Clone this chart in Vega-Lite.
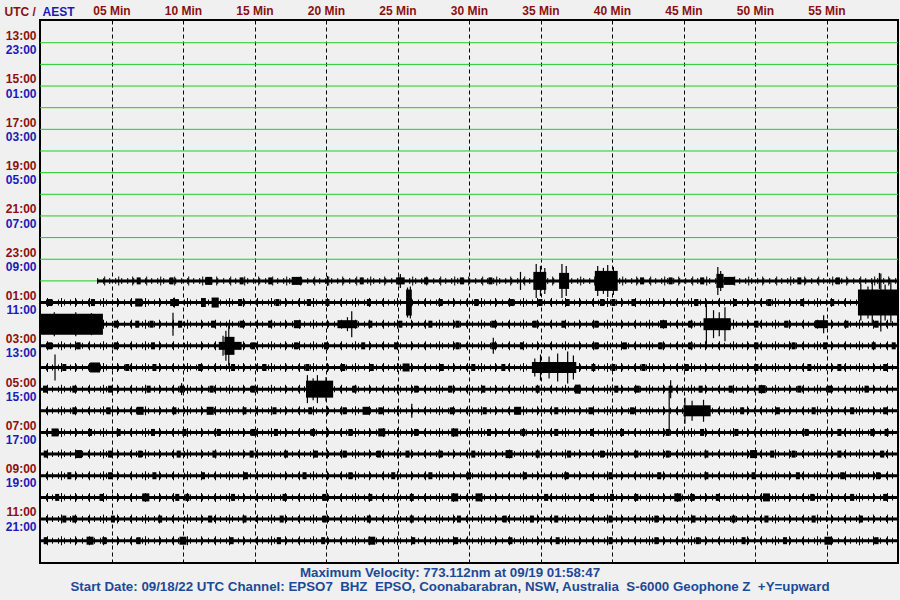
{
  "$schema": "https://vega.github.io/schema/vega-lite/v6.json",
  "width": 858,
  "height": 543,
  "autosize": {"type": "none"},
  "padding": {"left": 40, "top": 20, "right": 2, "bottom": 37},
  "background": "#f0f0f0",
  "config": {
    "view": {"stroke": "#000000", "strokeWidth": 2, "fill": "#f0f0f0"},
    "font": "Liberation Sans"
  },
  "title": {
    "text": ["Maximum Velocity: 773.112nm at 09/19 01:58:47", "Start Date: 09/18/22 UTC Channel: EPSO7\u00a0 BHZ\u00a0 EPSO, Coonabarabran, NSW, Australia\u00a0 S-6000 Geophone Z\u00a0 +Y=upward"],
    "orient": "bottom",
    "anchor": "middle",
    "offset": 3,
    "dx": -19,
    "baseline": "top",
    "font": "Liberation Sans",
    "fontSize": 13.3,
    "fontWeight": "bold",
    "color": "#1c4a96",
    "lineHeight": 14
  },
  "datasets": {
    "green": [
      {"r": 0, "a": 0, "b": 60}, {"r": 1, "a": 0, "b": 60}, {"r": 2, "a": 0, "b": 60}, {"r": 3, "a": 0, "b": 60},
      {"r": 4, "a": 0, "b": 60}, {"r": 5, "a": 0, "b": 60}, {"r": 6, "a": 0, "b": 60}, {"r": 7, "a": 0, "b": 60},
      {"r": 8, "a": 0, "b": 60}, {"r": 9, "a": 0, "b": 60}, {"r": 10, "a": 0, "b": 60}, {"r": 11, "a": 0, "b": 4.0}
    ],
    "base": [
      {"r": 11, "a": 4.0, "b": 60}, {"r": 12, "a": 0, "b": 60}, {"r": 13, "a": 0, "b": 60},
      {"r": 14, "a": 0, "b": 60}, {"r": 15, "a": 0, "b": 60}, {"r": 16, "a": 0, "b": 60},
      {"r": 17, "a": 0, "b": 60}, {"r": 18, "a": 0, "b": 60}, {"r": 19, "a": 0, "b": 60},
      {"r": 20, "a": 0, "b": 60}, {"r": 21, "a": 0, "b": 60}, {"r": 22, "a": 0, "b": 60},
      {"r": 23, "a": 0, "b": 60}
    ],
    "seg": [
      {"r": 11, "a": 17.6, "b": 18.3, "h": 8}, {"r": 11, "a": 24.9, "b": 25.5, "h": 7}, {"r": 11, "a": 34.5, "b": 35.4, "h": 18},
      {"r": 11, "a": 36.3, "b": 37.0, "h": 16}, {"r": 11, "a": 38.8, "b": 40.4, "h": 20}, {"r": 11, "a": 47.3, "b": 47.8, "h": 14},
      {"r": 11, "a": 47.8, "b": 48.6, "h": 8},
      {"r": 12, "a": 9.1, "b": 9.7, "h": 7}, {"r": 12, "a": 11.3, "b": 11.6, "h": 9}, {"r": 12, "a": 12.0, "b": 12.5, "h": 10},
      {"r": 12, "a": 25.6, "b": 26.0, "h": 26}, {"r": 12, "a": 57.2, "b": 60, "h": 26},
      {"r": 13, "a": 0, "b": 4.4, "h": 21}, {"r": 13, "a": 20.8, "b": 22.2, "h": 8}, {"r": 13, "a": 46.4, "b": 48.3, "h": 12},
      {"r": 13, "a": 54.2, "b": 55.1, "h": 8},
      {"r": 14, "a": 12.5, "b": 14.1, "h": 8}, {"r": 14, "a": 12.9, "b": 13.6, "h": 18},
      {"r": 15, "a": 3.5, "b": 4.2, "h": 10}, {"r": 15, "a": 34.4, "b": 37.5, "h": 11},
      {"r": 16, "a": 18.6, "b": 20.5, "h": 17}, {"r": 16, "a": 37.4, "b": 37.8, "h": 9},
      {"r": 17, "a": 45.0, "b": 46.9, "h": 11}
    ],
    "blip": [
      {"r": 11, "a": 6.9}, {"r": 11, "a": 9.2}, {"r": 11, "a": 14.1}, {"r": 11, "a": 16.1}, {"r": 11, "a": 22.5},
      {"r": 11, "a": 27.0}, {"r": 11, "a": 29.5}, {"r": 11, "a": 31.5}, {"r": 11, "a": 42.1}, {"r": 11, "a": 44.1},
      {"r": 11, "a": 46.3}, {"r": 11, "a": 53.1}, {"r": 11, "a": 55.8},
      {"r": 12, "a": 0.7}, {"r": 12, "a": 3.7}, {"r": 12, "a": 14.0}, {"r": 12, "a": 16.6}, {"r": 12, "a": 18.8},
      {"r": 12, "a": 20.1}, {"r": 12, "a": 23.0}, {"r": 12, "a": 28.0}, {"r": 12, "a": 30.5}, {"r": 12, "a": 33.0},
      {"r": 12, "a": 35.0}, {"r": 12, "a": 36.9}, {"r": 12, "a": 39.3}, {"r": 12, "a": 40.1}, {"r": 12, "a": 41.5},
      {"r": 12, "a": 45.9}, {"r": 12, "a": 48.6}, {"r": 12, "a": 51.0}, {"r": 12, "a": 53.3}, {"r": 12, "a": 55.4},
      {"r": 13, "a": 5.3}, {"r": 13, "a": 6.8}, {"r": 13, "a": 7.8}, {"r": 13, "a": 9.8}, {"r": 13, "a": 12.1},
      {"r": 13, "a": 14.1}, {"r": 13, "a": 16.1}, {"r": 13, "a": 23.1}, {"r": 13, "a": 25.2}, {"r": 13, "a": 27.3},
      {"r": 13, "a": 29.2}, {"r": 13, "a": 31.7}, {"r": 13, "a": 34.6}, {"r": 13, "a": 36.6}, {"r": 13, "a": 38.9},
      {"r": 13, "a": 45.5}, {"r": 13, "a": 50.1}, {"r": 13, "a": 52.2}, {"r": 13, "a": 56.4}, {"r": 13, "a": 58.5},
      {"r": 14, "a": 0.7}, {"r": 14, "a": 2.7}, {"r": 14, "a": 5.3}, {"r": 14, "a": 7.9}, {"r": 14, "a": 14.9},
      {"r": 14, "a": 17.9}, {"r": 14, "a": 20.0}, {"r": 14, "a": 22.6}, {"r": 14, "a": 24.9}, {"r": 14, "a": 29.2},
      {"r": 14, "a": 31.7}, {"r": 14, "a": 33.7}, {"r": 14, "a": 38.9}, {"r": 14, "a": 40.9}, {"r": 14, "a": 43.4},
      {"r": 14, "a": 45.5}, {"r": 14, "a": 50.1}, {"r": 14, "a": 52.7}, {"r": 14, "a": 54.9}, {"r": 14, "a": 58.3},
      {"r": 14, "a": 59.7},
      {"r": 15, "a": 1.7}, {"r": 15, "a": 6.1}, {"r": 15, "a": 8.0}, {"r": 15, "a": 11.2}, {"r": 15, "a": 13.5},
      {"r": 15, "a": 15.7}, {"r": 15, "a": 18.7}, {"r": 15, "a": 21.2}, {"r": 15, "a": 23.2}, {"r": 15, "a": 28.1},
      {"r": 15, "a": 30.3}, {"r": 15, "a": 32.4}, {"r": 15, "a": 38.7}, {"r": 15, "a": 40.1}, {"r": 15, "a": 42.2},
      {"r": 15, "a": 45.2}, {"r": 15, "a": 50.1}, {"r": 15, "a": 53.8}, {"r": 15, "a": 55.9}, {"r": 15, "a": 59.1},
      {"r": 16, "a": 0.35}, {"r": 16, "a": 2.4}, {"r": 16, "a": 4.9}, {"r": 16, "a": 7.6}, {"r": 16, "a": 9.9},
      {"r": 16, "a": 12.0}, {"r": 16, "a": 14.9}, {"r": 16, "a": 22.0}, {"r": 16, "a": 26.3}, {"r": 16, "a": 28.7},
      {"r": 16, "a": 31.0}, {"r": 16, "a": 34.8}, {"r": 16, "a": 40.3}, {"r": 16, "a": 41.8}, {"r": 16, "a": 44.1},
      {"r": 16, "a": 46.2}, {"r": 16, "a": 48.3}, {"r": 16, "a": 53.1}, {"r": 16, "a": 55.2}, {"r": 16, "a": 57.8},
      {"r": 17, "a": 2.4}, {"r": 17, "a": 4.8}, {"r": 17, "a": 9.4}, {"r": 17, "a": 14.3}, {"r": 17, "a": 16.4},
      {"r": 17, "a": 18.9}, {"r": 17, "a": 21.3}, {"r": 17, "a": 23.8}, {"r": 17, "a": 28.8}, {"r": 17, "a": 31.1},
      {"r": 17, "a": 36.1}, {"r": 17, "a": 38.5}, {"r": 17, "a": 41.4}, {"r": 17, "a": 49.1}, {"r": 17, "a": 51.6},
      {"r": 17, "a": 54.1}, {"r": 17, "a": 56.8}, {"r": 17, "a": 59.1},
      {"r": 18, "a": 3.5}, {"r": 18, "a": 5.5}, {"r": 18, "a": 7.9}, {"r": 18, "a": 10.1}, {"r": 18, "a": 12.5},
      {"r": 18, "a": 14.9}, {"r": 18, "a": 16.5}, {"r": 18, "a": 19.1}, {"r": 18, "a": 21.7}, {"r": 18, "a": 26.3},
      {"r": 18, "a": 31.4}, {"r": 18, "a": 33.8}, {"r": 18, "a": 36.1}, {"r": 18, "a": 38.6}, {"r": 18, "a": 40.7},
      {"r": 18, "a": 43.9}, {"r": 18, "a": 46.3}, {"r": 18, "a": 48.7}, {"r": 18, "a": 53.6}, {"r": 18, "a": 55.9},
      {"r": 18, "a": 58.2}, {"r": 18, "a": 59.2},
      {"r": 19, "a": 0.4}, {"r": 19, "a": 4.9}, {"r": 19, "a": 7.0}, {"r": 19, "a": 9.7}, {"r": 19, "a": 12.2},
      {"r": 19, "a": 14.8}, {"r": 19, "a": 17.2}, {"r": 19, "a": 19.3}, {"r": 19, "a": 21.3}, {"r": 19, "a": 23.7},
      {"r": 19, "a": 25.7}, {"r": 19, "a": 28.0}, {"r": 19, "a": 30.3}, {"r": 19, "a": 34.8}, {"r": 19, "a": 37.0},
      {"r": 19, "a": 39.3}, {"r": 19, "a": 41.7}, {"r": 19, "a": 43.9}, {"r": 19, "a": 46.6}, {"r": 19, "a": 51.2},
      {"r": 19, "a": 52.7}, {"r": 19, "a": 55.9}, {"r": 19, "a": 58.9},
      {"r": 20, "a": 2.05}, {"r": 20, "a": 4.9}, {"r": 20, "a": 8.0}, {"r": 20, "a": 11.4}, {"r": 20, "a": 14.4},
      {"r": 20, "a": 18.5}, {"r": 20, "a": 21.7}, {"r": 20, "a": 24.7}, {"r": 20, "a": 27.3}, {"r": 20, "a": 30.0},
      {"r": 20, "a": 33.9}, {"r": 20, "a": 36.8}, {"r": 20, "a": 39.9}, {"r": 20, "a": 43.3}, {"r": 20, "a": 46.6},
      {"r": 20, "a": 49.9}, {"r": 20, "a": 53.0}, {"r": 20, "a": 56.1}, {"r": 20, "a": 58.6},
      {"r": 21, "a": 1.2}, {"r": 21, "a": 4.3}, {"r": 21, "a": 9.6}, {"r": 21, "a": 10.3}, {"r": 21, "a": 13.5},
      {"r": 21, "a": 17.1}, {"r": 21, "a": 19.9}, {"r": 21, "a": 23.1}, {"r": 21, "a": 26.0}, {"r": 21, "a": 35.4},
      {"r": 21, "a": 38.6}, {"r": 21, "a": 40.0}, {"r": 21, "a": 41.7}, {"r": 21, "a": 45.6}, {"r": 21, "a": 47.4},
      {"r": 21, "a": 54.0}, {"r": 21, "a": 56.8}, {"r": 21, "a": 59.1},
      {"r": 22, "a": 1.7}, {"r": 22, "a": 2.4}, {"r": 22, "a": 5.1}, {"r": 22, "a": 8.4}, {"r": 22, "a": 11.9},
      {"r": 22, "a": 14.3}, {"r": 22, "a": 16.9}, {"r": 22, "a": 19.9}, {"r": 22, "a": 23.0}, {"r": 22, "a": 26.0},
      {"r": 22, "a": 29.3}, {"r": 22, "a": 32.5}, {"r": 22, "a": 34.4}, {"r": 22, "a": 36.1}, {"r": 22, "a": 39.9},
      {"r": 22, "a": 43.1}, {"r": 22, "a": 45.7}, {"r": 22, "a": 48.5}, {"r": 22, "a": 50.8}, {"r": 22, "a": 54.1},
      {"r": 22, "a": 57.4},
      {"r": 23, "a": 0.4}, {"r": 23, "a": 4.5}, {"r": 23, "a": 6.9}, {"r": 23, "a": 13.4}, {"r": 23, "a": 16.7},
      {"r": 23, "a": 19.8}, {"r": 23, "a": 26.1}, {"r": 23, "a": 29.1}, {"r": 23, "a": 32.9}, {"r": 23, "a": 36.2},
      {"r": 23, "a": 39.9}, {"r": 23, "a": 43.1}, {"r": 23, "a": 46.0}, {"r": 23, "a": 49.2}, {"r": 23, "a": 52.1},
      {"r": 23, "a": 58.5}
    ],
    "wide": [
      {"r": 11, "a": 11.8}, {"r": 12, "a": 6.9}, {"r": 13, "a": 18.0}, {"r": 13, "a": 43.6}, {"r": 15, "a": 25.6},
      {"r": 16, "a": 50.5}, {"r": 17, "a": 7.0}, {"r": 17, "a": 11.9}, {"r": 17, "a": 22.8}, {"r": 17, "a": 33.4},
      {"r": 18, "a": 1.05}, {"r": 18, "a": 23.9}, {"r": 18, "a": 29.0}, {"r": 19, "a": 2.7}, {"r": 19, "a": 32.8},
      {"r": 19, "a": 49.9}, {"r": 21, "a": 7.4}, {"r": 21, "a": 29.0}, {"r": 21, "a": 30.7}, {"r": 21, "a": 44.6},
      {"r": 21, "a": 50.8}, {"r": 23, "a": 3.5}, {"r": 23, "a": 10.0}, {"r": 23, "a": 23.2}, {"r": 23, "a": 55.1}
    ],
    "spike": [
      {"r": 11, "a": 25.2, "h": 14}, {"r": 11, "a": 33.6, "h": 18}, {"r": 11, "a": 34.7, "h": 34}, {"r": 11, "a": 35.0, "h": 30},
      {"r": 11, "a": 35.3, "h": 26}, {"r": 11, "a": 36.5, "h": 34}, {"r": 11, "a": 36.8, "h": 30}, {"r": 11, "a": 39.0, "h": 30},
      {"r": 11, "a": 39.4, "h": 26}, {"r": 11, "a": 39.7, "h": 32}, {"r": 11, "a": 40.1, "h": 28}, {"r": 11, "a": 47.4, "h": 28},
      {"r": 11, "a": 47.6, "h": 20}, {"r": 11, "a": 58.7, "h": 16}, {"r": 11, "a": 20.1, "h": 10},
      {"r": 12, "a": 25.7, "h": 30}, {"r": 12, "a": 25.9, "h": 32}, {"r": 12, "a": 57.4, "h": 36}, {"r": 12, "a": 57.9, "h": 32},
      {"r": 12, "a": 58.2, "h": 44}, {"r": 12, "a": 58.8, "h": 58}, {"r": 12, "a": 59.1, "h": 36}, {"r": 12, "a": 59.5, "h": 40},
      {"r": 12, "a": 9.4, "h": 10},
      {"r": 13, "a": 9.3, "h": 23}, {"r": 13, "a": 21.8, "h": 26}, {"r": 13, "a": 21.5, "h": 14}, {"r": 13, "a": 46.6, "h": 38},
      {"r": 13, "a": 47.1, "h": 28}, {"r": 13, "a": 47.5, "h": 24}, {"r": 13, "a": 47.9, "h": 34}, {"r": 13, "a": 54.8, "h": 18},
      {"r": 13, "a": 1.0, "h": 24}, {"r": 13, "a": 2.5, "h": 24}, {"r": 13, "a": 3.6, "h": 22},
      {"r": 14, "a": 13.2, "h": 40}, {"r": 14, "a": 13.0, "h": 30}, {"r": 14, "a": 12.8, "h": 20}, {"r": 14, "a": 31.7, "h": 16},
      {"r": 15, "a": 1.05, "h": 26}, {"r": 15, "a": 34.6, "h": 18}, {"r": 15, "a": 35.0, "h": 26}, {"r": 15, "a": 35.6, "h": 22},
      {"r": 15, "a": 36.2, "h": 28}, {"r": 15, "a": 36.9, "h": 32}, {"r": 15, "a": 37.3, "h": 24},
      {"r": 16, "a": 18.7, "h": 28}, {"r": 16, "a": 19.1, "h": 22}, {"r": 16, "a": 19.4, "h": 28}, {"r": 16, "a": 20.0, "h": 24},
      {"r": 16, "a": 9.9, "h": 12}, {"r": 16, "a": 44.1, "h": 18},
      {"r": 17, "a": 44.0, "h": 38}, {"r": 17, "a": 45.1, "h": 26}, {"r": 17, "a": 45.6, "h": 20}, {"r": 17, "a": 46.4, "h": 22},
      {"r": 17, "a": 26.0, "h": 14}
    ]
  },
  "encoding": {
    "x": {
      "field": "a", "type": "quantitative",
      "scale": {"domain": [0, 60], "nice": false, "zero": false},
      "axis": {
        "orient": "top",
        "values": [5, 10, 15, 20, 25, 30, 35, 40, 45, 50, 55],
        "labelExpr": "(datum.value < 10 ? '0' : '') + datum.value + ' Min'",
        "labelFont": "Liberation Sans", "labelFontSize": 12, "labelFontWeight": "bold",
        "labelColor": "#8b1010", "labelPadding": 3,
        "ticks": false, "domain": false,
        "grid": true, "gridColor": "#000000", "gridDash": [4, 3], "gridWidth": 1, "gridOpacity": 1,
        "labelOverlap": false, "labelFlush": false,
        "title": "AEST", "titleColor": "#1a1ab8", "titleFont": "Liberation Sans", "titleFontSize": 12,
        "titleFontWeight": "bold", "titleAngle": 0, "titleX": 2, "titleY": -9,
        "titleAlign": "left", "titleBaseline": "middle"
      }
    },
    "y": {
      "field": "r", "type": "quantitative",
      "scale": {"domain": [-1.05, 24.03], "reverse": true, "nice": false, "zero": false},
      "axis": {
        "orient": "left",
        "values": [-0.33, 0.33, 1.67, 2.33, 3.67, 4.33, 5.67, 6.33, 7.67, 8.33, 9.67, 10.33, 11.67, 12.33, 13.67, 14.33, 15.67, 16.33, 17.67, 18.33, 19.67, 20.33, 21.67, 22.33],
        "labelExpr": "datum.value < round(datum.value) ? ((((13 + round(datum.value)) % 24) < 10 ? '0' : '') + ((13 + round(datum.value)) % 24) + ':00') : ((((23 + round(datum.value)) % 24) < 10 ? '0' : '') + ((23 + round(datum.value)) % 24) + ':00')",
        "labelColor": {"condition": {"test": "datum.value < round(datum.value)", "value": "#8b1010"}, "value": "#1a1ab8"},
        "labelFont": "Liberation Sans", "labelFontSize": 12, "labelFontWeight": "bold",
        "labelPadding": 4, "labelOverlap": false, "labelFlush": false, "labelBound": false,
        "ticks": false, "domain": false, "grid": false,
        "title": "UTC /", "titleColor": "#8b1010", "titleFont": "Liberation Sans", "titleFontSize": 12,
        "titleFontWeight": "bold", "titleAngle": 0, "titleX": -36, "titleY": -9,
        "titleAlign": "left", "titleBaseline": "middle"
      }
    }
  },
  "layer": [
    {
      "data": {"name": "green"},
      "mark": {"type": "rule", "color": "#22cc22", "strokeWidth": 1},
      "encoding": {"x2": {"field": "b"}}
    },
    {
      "data": {"name": "base"},
      "mark": {"type": "rule", "color": "#000000", "strokeWidth": 3, "strokeCap": "butt"},
      "encoding": {"x2": {"field": "b"}}
    },
    {
      "data": {"name": "base"},
      "mark": {"type": "rule", "color": "#000000", "strokeWidth": 6, "strokeCap": "butt", "strokeDash": [1, 5]},
      "encoding": {"x2": {"field": "b"}}
    },
    {
      "data": {"name": "base"},
      "mark": {"type": "rule", "color": "#000000", "strokeWidth": 9, "strokeCap": "butt", "strokeDash": [1, 13], "strokeDashOffset": 7},
      "encoding": {"x2": {"field": "b"}}
    },
    {
      "data": {"name": "seg"},
      "mark": {"type": "rule", "color": "#000000", "strokeCap": "butt"},
      "encoding": {
        "x2": {"field": "b"},
        "strokeWidth": {"field": "h", "type": "quantitative", "scale": {"type": "linear", "domain": [0, 40], "range": [0, 40]}, "legend": null}
      }
    },
    {
      "data": {"name": "blip"},
      "mark": {"type": "tick", "orient": "vertical", "color": "#000000", "thickness": 4, "size": 7, "opacity": 1},
      "encoding": {}
    },
    {
      "data": {"name": "wide"},
      "mark": {"type": "tick", "orient": "vertical", "color": "#000000", "thickness": 7, "size": 8, "opacity": 1},
      "encoding": {}
    },
    {
      "data": {"name": "spike"},
      "mark": {"type": "tick", "orient": "vertical", "color": "#000000", "thickness": 1.2, "opacity": 1},
      "encoding": {
        "size": {"field": "h", "type": "quantitative", "scale": {"type": "linear", "domain": [0, 60], "range": [0, 60]}, "legend": null}
      }
    }
  ]
}
